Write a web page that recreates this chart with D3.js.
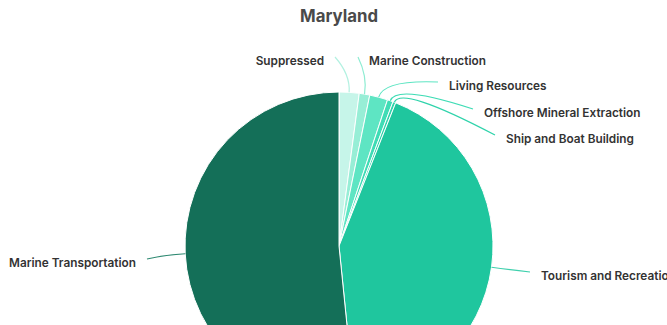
<!DOCTYPE html>
<html>
<head>
<meta charset="utf-8">
<script src="https://cdn.jsdelivr.net/npm/d3@7"></script>
<style>
  html, body { margin: 0; padding: 0; background: #fff; overflow: hidden; }
  svg { display: block; }
</style>
</head>
<body>
<svg id="chart" width="667" height="325"></svg>
<script>
// ---- data ----
const title = "Maryland";
const categories = [
  "Suppressed",
  "Marine Construction",
  "Living Resources",
  "Offshore Mineral Extraction",
  "Ship and Boat Building",
  "Tourism and Recreation",
  "Marine Transportation"
];
const values = [2.1, 1.1, 1.9, 0.6, 0.3, 42.4, 51.6];
const colors = ["#c6f5e9", "#97eed6", "#5ee5c3", "#3fdcb5", "#2fd3ab", "#1fc69e", "#146f58"];
const connectorColors = ["#b3f1e1", "#8eecd2", "#5ee5c3", "#3fdcb5", "#2fd3ab", "#3fd0ad", "#2f8a72"];

// ---- layout (not data) ----
const W = 667, H = 325;
const cx = 339, cy = 246, r = 154;
// label anchor points (end of connectors) and text side
const labelAnchors = [
  {x: 335, y: 57, side: "left"},
  {x: 358, y: 57, side: "right"},
  {x: 438, y: 82, side: "right"},
  {x: 473, y: 109, side: "right"},
  {x: 495, y: 135, side: "right"},
  {x: 530, y: 272, side: "right"},
  {x: 147, y: 259, side: "left"}
];

const svg = d3.select("#chart");

svg.append("text")
  .attr("x", cx).attr("y", 17)
  .attr("text-anchor", "middle")
  .attr("dominant-baseline", "middle")
  .attr("font-family", "Inter, 'Libre Franklin', 'Noto Sans', sans-serif")
  .attr("font-weight", 700)
  .attr("font-size", 16.8)
  .attr("fill", "#4a4a4a")
  .text(title);

const data = categories.map((c, i) => ({name: c, value: values[i], color: colors[i], i}));
const pie = d3.pie().sort(null).value(d => d.value).startAngle(0).endAngle(2 * Math.PI);
const arcs = pie(data);
const arc = d3.arc().innerRadius(0).outerRadius(r);

const g = svg.append("g").attr("transform", `translate(${cx},${cy})`);

g.selectAll("path.slice")
  .data(arcs)
  .join("path")
  .attr("class", "slice")
  .attr("d", arc)
  .attr("fill", d => d.data.color)
  .attr("stroke", "#ffffff")
  .attr("stroke-width", 1)
  .attr("stroke-linejoin", "round");

// connectors
function edgePoint(a, rad) {
  return [cx + rad * Math.sin(a), cy - rad * Math.cos(a)];
}
const conn = svg.append("g");
arcs.forEach((d, i) => {
  const mid = (d.startAngle + d.endAngle) / 2;
  const s = edgePoint(mid, r);
  const c = edgePoint(mid, r + 18);
  const e = labelAnchors[i];
  const p = d3.path();
  p.moveTo(s[0], s[1]);
  p.quadraticCurveTo(c[0], c[1], e.x, e.y);
  conn.append("path")
    .attr("d", p.toString())
    .attr("fill", "none")
    .attr("stroke", connectorColors[i])
    .attr("stroke-width", 1.2);
});

// labels
svg.append("g").selectAll("text")
  .data(arcs)
  .join("text")
  .attr("x", (d, i) => labelAnchors[i].side === "left" ? labelAnchors[i].x - 11 : labelAnchors[i].x + 11)
  .attr("y", (d, i) => labelAnchors[i].y + 4.5)
  .attr("text-anchor", (d, i) => labelAnchors[i].side === "left" ? "end" : "start")
  .attr("dominant-baseline", "middle")
  .attr("font-family", "Inter, 'Libre Franklin', 'Noto Sans', sans-serif")
  .attr("font-weight", 600)
  .attr("font-size", 11.8)
  .attr("fill", "#333333")
  .text(d => d.data.name);
</script>
</body>
</html>
